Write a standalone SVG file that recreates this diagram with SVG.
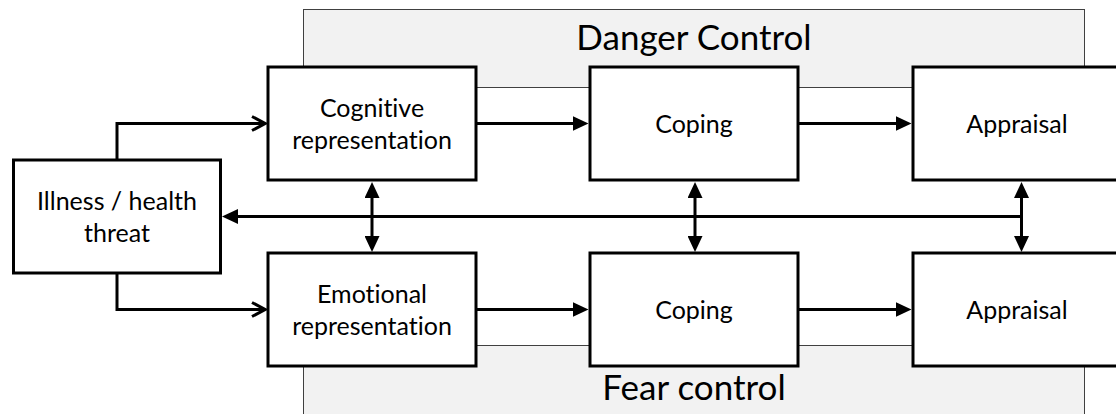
<svg xmlns="http://www.w3.org/2000/svg" width="1116" height="414" viewBox="0 0 1116 414">
  <defs>
    <style>
      .panel { fill: #f2f2f2; stroke: #404040; stroke-width: 1; }
      .box { fill: #ffffff; stroke: #000000; stroke-width: 3; stroke-linejoin: miter; }
      .lbl { font-family: Lato, "Liberation Sans", sans-serif; font-size: 25px; fill: #000000; text-anchor: middle; font-variant-ligatures: none; }
      .title { font-family: Lato, "Liberation Sans", sans-serif; font-size: 35px; fill: #000000; text-anchor: middle; font-variant-ligatures: none; }
      .link { fill: none; stroke: #000000; stroke-width: 3; }
    </style>
    <!-- filled triangular head; tip sits 13px beyond the path end -->
    <marker id="tri" viewBox="0 0 16 15" refX="3" refY="7.5" markerWidth="16" markerHeight="15" markerUnits="userSpaceOnUse" orient="auto-start-reverse">
      <path d="M0,0 L16,7.5 L0,15 Z" fill="#000000"/>
    </marker>
    <!-- open chevron head -->
    <marker id="open" viewBox="-2 -2 17 18" refX="13" refY="7" markerWidth="17" markerHeight="18" markerUnits="userSpaceOnUse" orient="auto">
      <path d="M0,0 L13,7 L0,14" fill="none" stroke="#000000" stroke-width="3"/>
    </marker>
  </defs>

  <!-- background regions -->
  <g id="danger-control">
    <rect class="panel" x="303.5" y="9.5" width="781" height="78"/>
    <text class="title" x="694" y="50">Danger Control</text>
  </g>
  <g id="fear-control">
    <rect class="panel" x="303.5" y="345.5" width="781" height="80"/>
    <text class="title" x="694" y="400">Fear control</text>
  </g>

  <!-- connectors -->
  <g id="connectors">
    <path class="link" d="M117,159 V123.5 H265" marker-end="url(#open)"/>
    <path class="link" d="M117,274 V309.5 H265" marker-end="url(#open)"/>
    <path class="link" d="M477,123.5 H575.5" marker-end="url(#tri)"/>
    <path class="link" d="M799,123.5 H898.5" marker-end="url(#tri)"/>
    <path class="link" d="M477,309.5 H575.5" marker-end="url(#tri)"/>
    <path class="link" d="M799,309.5 H898.5" marker-end="url(#tri)"/>
    <path class="link" d="M1021.5,216.5 H235" marker-end="url(#tri)"/>
    <path class="link" d="M372,195 V239" marker-start="url(#tri)" marker-end="url(#tri)"/>
    <path class="link" d="M695,195 V239" marker-start="url(#tri)" marker-end="url(#tri)"/>
    <path class="link" d="M1021.5,195 V239" marker-start="url(#tri)" marker-end="url(#tri)"/>
  </g>

  <!-- nodes -->
  <g id="illness">
    <rect class="box" x="13.5" y="160" width="207" height="113"/>
    <text class="lbl" x="117" y="209.5">Illness / health</text>
    <text class="lbl" x="117" y="241.5">threat</text>
  </g>
  <g id="cognitive">
    <rect class="box" x="268" y="67" width="208" height="113"/>
    <text class="lbl" x="372" y="116.5">Cognitive</text>
    <text class="lbl" x="372" y="148.5">representation</text>
  </g>
  <g id="emotional">
    <rect class="box" x="268" y="253" width="208" height="113"/>
    <text class="lbl" x="372" y="303">Emotional</text>
    <text class="lbl" x="372" y="335">representation</text>
  </g>
  <g id="coping-danger">
    <rect class="box" x="590" y="67" width="208" height="113"/>
    <text class="lbl" x="694" y="132.5">Coping</text>
  </g>
  <g id="coping-fear">
    <rect class="box" x="590" y="253" width="208" height="113"/>
    <text class="lbl" x="694" y="318.5">Coping</text>
  </g>
  <g id="appraisal-danger">
    <rect class="box" x="913" y="67" width="208" height="113"/>
    <text class="lbl" x="1017" y="132.5">Appraisal</text>
  </g>
  <g id="appraisal-fear">
    <rect class="box" x="913" y="253" width="208" height="113"/>
    <text class="lbl" x="1017" y="318.5">Appraisal</text>
  </g>
</svg>
